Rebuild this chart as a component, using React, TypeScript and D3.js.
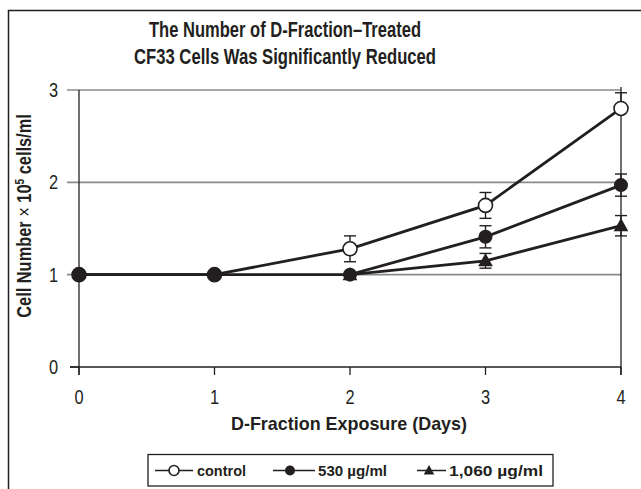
import React from "react";
import * as d3 from "d3";

const days = [0, 1, 2, 3, 4];
const controlDays = [0, 1, 2, 3, 4];
const controlVals = [1, 1, 1.28, 1.75, 2.8];
const controlErrUp = [0, 0, 0.14, 0.14, 0.17];
const controlErrDown = [0, 0, 0.14, 0.14, 0];
const lowDays = [0, 1, 2, 3, 4];
const lowVals = [1, 1, 1, 1.41, 1.97];
const lowErrUp = [0, 0, 0, 0.12, 0.12];
const lowErrDown = [0, 0, 0, 0.12, 0.12];
const highDays = [2, 3, 4];
const highVals = [1, 1.15, 1.53];
const highErrUp = [0, 0.08, 0.11];
const highErrDown = [0, 0.08, 0.11];
const yTicks = [0, 1, 2, 3];
const gridTicks = [1, 2, 3];
const titleLines = ["The Number of D-Fraction\u2013Treated", "CF33 Cells Was Significantly Reduced"];
const legendLabels = ["control", "530 \u00b5g/ml", "1,060 \u00b5g/ml"];

const FONT = "'Liberation Sans Narrow', 'Arial Narrow', 'Liberation Sans', Arial, sans-serif";
const INK = "#231f20";

export default function App() {
  const x = d3.scaleLinear().domain([0, 4]).range([79, 621]);
  const y = d3.scaleLinear().domain([0, 3]).range([367, 90]);
  const line = d3.line<[number, number]>().x(d => x(d[0])).y(d => y(d[1]));

  const series = [
    { key: "high", d: highDays, v: highVals, eu: highErrUp, ed: highErrDown, shape: "tri" },
    { key: "control", d: controlDays, v: controlVals, eu: controlErrUp, ed: controlErrDown, shape: "open" },
    { key: "low", d: lowDays, v: lowVals, eu: lowErrUp, ed: lowErrDown, shape: "filled" },
  ];

  const marker = (shape: string, cx: number, cy: number, r: number, k: string) => {
    if (shape === "tri") {
      const s = r * 1.05;
      return <path key={k} d={`M${cx},${cy - s * 1.05}L${cx + s},${cy + s * 0.75}L${cx - s},${cy + s * 0.75}Z`} fill={INK} />;
    }
    if (shape === "open") return <circle key={k} cx={cx} cy={cy} r={r} fill="#fff" stroke={INK} strokeWidth={1.6} />;
    return <circle key={k} cx={cx} cy={cy} r={r} fill={INK} />;
  };

  const legendItems = [
    { shape: "open", x1: 155, x2: 193, m: 174, tx: 197, w: 49 },
    { shape: "filled", x1: 273, x2: 315, m: 290, tx: 318, w: 69 },
    { shape: "tri", x1: 417, x2: 446, m: 429, tx: 449, w: 94 },
  ];

  const condensed = (key: string, cx: number, cy: number, s: string, size: number, anchor: string) => (
    <text key={key} transform={`translate(${cx},${cy}) scale(0.82,1)`} textAnchor={anchor} fontSize={size} fill={INK}>{s}</text>
  );

  return (
    <svg width={641} height={489} style={{ position: "absolute", left: 0, top: 0, background: "#fff" }} fontFamily={FONT}>
      <rect x={8.5} y={10.5} width={700} height={600} fill="#fff" stroke={INK} strokeWidth={1.5} />
      {titleLines.map((t, i) => (
        <text key={t} x={285} y={37 + i * 27} textAnchor="middle" fontSize={21.5} fontWeight="bold" fill={INK}
          textLength={i === 0 ? 272 : 302} lengthAdjust="spacingAndGlyphs">{t}</text>
      ))}
      {gridTicks.map(t => (
        <line key={"g" + t} x1={67} x2={x(4)} y1={y(t)} y2={y(t)} stroke="#8a8a8a" strokeWidth={1.6} />
      ))}
      <line x1={70} x2={x(4)} y1={y(0)} y2={y(0)} stroke={INK} strokeWidth={1.3} />
      <line x1={x(0)} x2={x(0)} y1={y(3)} y2={y(0) + 8} stroke={INK} strokeWidth={1.3} />
      <line x1={x(4)} x2={x(4)} y1={y(3) - 3} y2={y(0) + 8} stroke={INK} strokeWidth={1.3} />
      {days.map(d => (
        <g key={"xt" + d}>
          <line x1={x(d)} x2={x(d)} y1={y(0)} y2={y(0) + 8} stroke={INK} strokeWidth={1.3} />
          {condensed("xl" + d, x(d), 404, String(d), 20, "middle")}
        </g>
      ))}
      {yTicks.map(t => (
        <g key={"yt" + t}>
          {t === 0 && <line x1={70} x2={x(0)} y1={y(t)} y2={y(t)} stroke={INK} strokeWidth={1.3} />}
          {condensed("yl" + t, 58, y(t) + 7, String(t), 20, "end")}
        </g>
      ))}
      <text x={349} y={430} textAnchor="middle" fontSize={18.5} fontWeight="bold" fill={INK}
        textLength={236} lengthAdjust="spacingAndGlyphs">D-Fraction Exposure (Days)</text>
      <text transform="translate(31,216) rotate(-90) scale(0.84,1)" textAnchor="middle" fontSize={19.5} fontWeight="bold" fill={INK}>
        Cell Number <tspan fontWeight="normal">{"\u00d7"}</tspan> 10<tspan dy={-7} fontSize={12}>5</tspan><tspan dy={7}> cells/ml</tspan>
      </text>
      {series.map(s => (
        <path key={"l" + s.key} d={line(s.d.map((d, i) => [d, s.v[i]]) as [number, number][]) || ""} fill="none" stroke={INK} strokeWidth={2.8} />
      ))}
      {series.map(s => s.d.map((d, i) => (s.eu[i] > 0 || s.ed[i] > 0) ? (
        <g key={"e" + s.key + i} stroke={INK} strokeWidth={1.4}>
          <line x1={x(d)} x2={x(d)} y1={y(s.v[i] + s.eu[i])} y2={y(s.v[i] - s.ed[i])} />
          {s.eu[i] > 0 && <line x1={x(d) - 6} x2={x(d) + 6} y1={y(s.v[i] + s.eu[i])} y2={y(s.v[i] + s.eu[i])} />}
          {s.ed[i] > 0 && <line x1={x(d) - 6} x2={x(d) + 6} y1={y(s.v[i] - s.ed[i])} y2={y(s.v[i] - s.ed[i])} />}
        </g>
      ) : null))}
      {series.map(s => s.d.map((d, i) => marker(s.shape, x(d), y(s.v[i]), 7, "m" + s.key + i)))}
      <rect x={148} y={454.5} width={405} height={31.5} fill="#fff" stroke={INK} strokeWidth={1.3} />
      {legendItems.map((it, i) => (
        <g key={"lg" + i}>
          <line x1={it.x1} x2={it.x2} y1={470.5} y2={470.5} stroke={INK} strokeWidth={1.5} />
          {marker(it.shape, it.m, 470.5, 5, "lm" + i)}
          <text x={it.tx} y={476} fontSize={15.5} fontWeight="bold" fill={INK}
            textLength={it.w} lengthAdjust="spacingAndGlyphs">{legendLabels[i]}</text>
        </g>
      ))}
    </svg>
  );
}
